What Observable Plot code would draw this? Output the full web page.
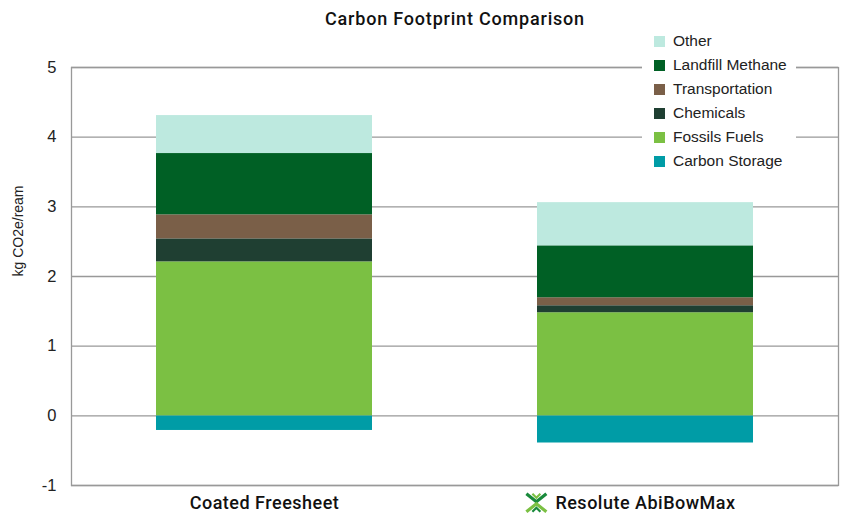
<!DOCTYPE html>
<html>
<head>
<meta charset="utf-8">
<script src="https://cdn.jsdelivr.net/npm/d3@7"></script>
<script src="https://cdn.jsdelivr.net/npm/@observablehq/plot@0.6"></script>
<style>
  html, body { margin: 0; padding: 0; background: #fff; }
  #wrap { position: relative; width: 844px; height: 518px; overflow: hidden; }
  #title { height: 30px; line-height: 37px; text-align: center; padding-left: 66px;
           font-family: Roboto, "DejaVu Sans", sans-serif; font-weight: 500;
           font-size: 18px; letter-spacing: 0.8px; color: #111; }
  #legend { position: absolute; left: 642px; top: 29px; width: 154px; height: 144px; background: #fff;
            font-family: "Liberation Sans", Arial, sans-serif; font-size: 15.5px; color: #222; }
  .item { position: absolute; left: 12px; height: 24px; line-height: 24px; white-space: nowrap; }
  .sw { display: inline-block; width: 11px; height: 11px; vertical-align: -1px; margin-right: 8px; }
</style>
</head>
<body>
<div id="wrap">
  <div id="title">Carbon Footprint Comparison</div>
  <div id="chart"></div>
  <div id="legend"></div>
</div>
<script>
const products = ["Coated Freesheet", "Resolute AbiBowMax"];
const categories = ["Carbon Storage", "Fossils Fuels", "Chemicals", "Transportation", "Landfill Methane", "Other"];
const colors = ["#009ca6", "#7bc043", "#1f3f32", "#7a5f48", "#006025", "#bde9df"];
const carbonStorage   = [-0.21, -0.39];
const fossilsFuels    = [2.21, 1.48];
const chemicals       = [0.33, 0.10];
const transportation  = [0.345, 0.115];
const landfillMethane = [0.88, 0.745];
const other           = [0.545, 0.62];
const yTicks = [-1, 0, 1, 2, 3, 4, 5];
const yLabel = "kg CO2e/ream";

const series = [carbonStorage, fossilsFuels, chemicals, transportation, landfillMethane, other];
const data = [];
categories.forEach((c, i) => products.forEach((p, j) => data.push({product: p, category: c, value: series[i][j]})));

const plot = Plot.plot({
  width: 844,
  height: 488,
  marginTop: 37,
  marginBottom: 33,
  marginLeft: 71,
  marginRight: 6,
  style: {fontFamily: "Liberation Sans, Arial, sans-serif", background: "#fff"},
  x: {domain: products, paddingInner: 0.432, paddingOuter: 0.222, label: null},
  y: {domain: [-1, 5], ticks: yTicks, label: null},
  color: {domain: categories, range: colors},
  marks: [
    Plot.ruleY(yTicks, {stroke: "#999", strokeWidth: 1.3}),
    Plot.frame({stroke: "#999", strokeWidth: 1.3}),
    Plot.barY(data, Plot.stackY({order: categories}, {x: "product", y: "value", fill: "category"})),
    Plot.axisY(yTicks, {tickSize: 0, tickPadding: 15, fontSize: 16.5, fill: "#222",
      tickFormat: d => String(d), label: null}),
    Plot.text([yLabel], {frameAnchor: "left", rotate: -90, dx: -53, fontSize: 14, fill: "#222",
      text: d => d}),
    Plot.axisX({tickSize: 0, tickPadding: 11, fontSize: 18, fill: "#111",
      fontFamily: "Roboto, DejaVu Sans, sans-serif", fontWeight: 500})
  ]
});
document.getElementById("chart").appendChild(plot);

d3.select(plot).selectAll("text").filter(function() { return products.includes(this.textContent); })
  .style("letter-spacing", "0.5px");

// Resolute logo next to its label
const svgRect = plot.getBoundingClientRect();
d3.select(plot).selectAll("text").filter(function() { return this.textContent === products[1]; }).each(function() {
  const r = this.getBoundingClientRect();
  const x0 = r.left - svgRect.left - 30;
  const y0 = r.top - svgRect.top + r.height / 2 - 10;
  const g = d3.select(plot).append("g").attr("transform", `translate(${x0},${y0})`);
  const dark = "#1a8a3c", light = "#7bc043";
  g.append("path").attr("d", "M1,1 L11,9 L21,1").attr("fill", "none").attr("stroke", dark).attr("stroke-width", 3.2);
  g.append("path").attr("d", "M1,19 L11,11 L21,19").attr("fill", "none").attr("stroke", light).attr("stroke-width", 3.2);
  g.append("path").attr("d", "M7,1 L11,5 L15,1").attr("fill", "none").attr("stroke", light).attr("stroke-width", 2.2);
  g.append("path").attr("d", "M7,19 L11,15 L15,19").attr("fill", "none").attr("stroke", dark).attr("stroke-width", 2.2);
});

// legend
const legend = document.getElementById("legend");
const legendOrder = categories.slice().reverse();
legendOrder.forEach((c, i) => {
  const item = document.createElement("div");
  item.className = "item";
  item.style.top = (i * 24) + "px";
  const sw = document.createElement("span");
  sw.className = "sw";
  sw.style.background = colors[categories.indexOf(c)];
  item.appendChild(sw);
  item.appendChild(document.createTextNode(c));
  legend.appendChild(item);
});
</script>
</body>
</html>
